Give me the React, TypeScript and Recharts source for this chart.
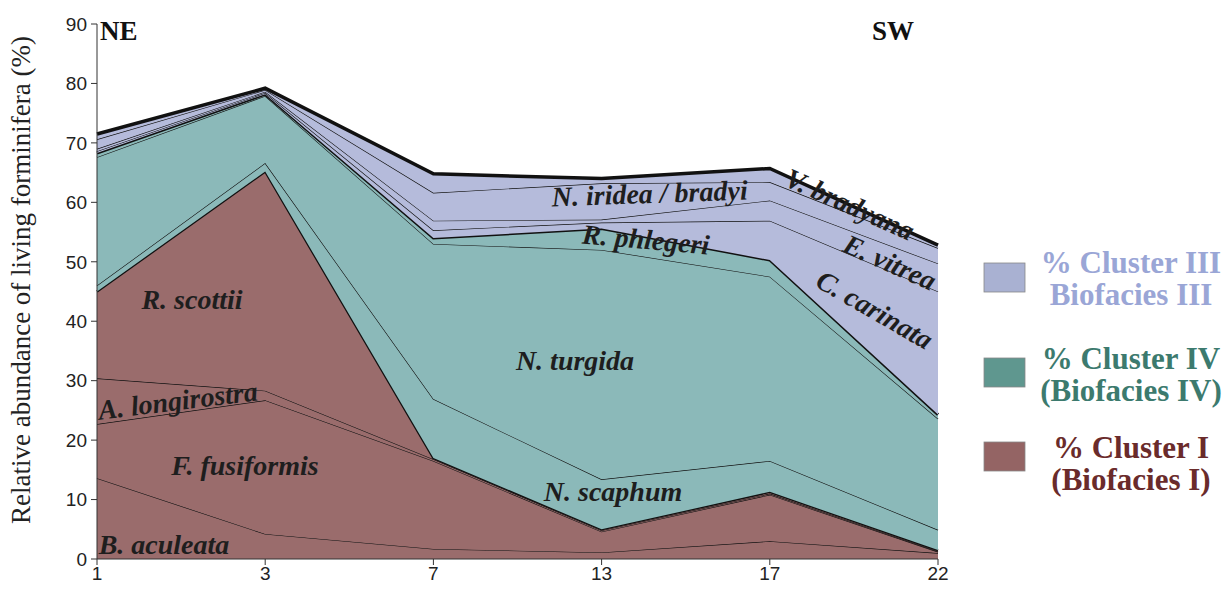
import { AreaChart, Area, XAxis, YAxis } from 'recharts'

// sampling sites, NE -> SW
const sites = ['1', '3', '7', '13', '17', '22']

// relative abundance (%) of each species, stacked bottom to top
const bAculeata = [13.6, 4.2, 1.7, 1.1, 3.0, 1.0]
const fFusiformis = [9.1, 22.5, 14.8, 3.5, 7.8, 0.2]
const aLongirostra = [7.7, 1.6, 0.3, 0.2, 0.2, 0.1]
const rScottii = [14.6, 36.9, 0.2, 0.2, 0.3, 0.2]
const nScaphum = [1.0, 1.4, 9.9, 8.4, 5.2, 3.4]
const nTurgida = [21.6, 11.3, 26.1, 38.6, 31.0, 18.7]
const rPhlegeri = [0.7, 0.3, 1.0, 3.6, 2.8, 0.7]
const cCarinata = [0.3, 0.2, 1.3, 1.0, 6.6, 20.7]
const eVitrea = [0.4, 0.2, 1.6, 0.5, 3.4, 4.7]
const nIridea = [1.6, 0.3, 4.7, 6.1, 3.1, 2.6]
const vBradyana = [0.9, 0.3, 3.2, 0.8, 2.3, 0.5]

const yTicks = [0, 10, 20, 30, 40, 50, 60, 70, 80, 90]

const BROWN = '#9a6c6c'
const TEAL = '#8bb9b9'
const LAVENDER = '#b5bbdb'

const data = sites.map((site, i) => ({
  site,
  bAculeata: bAculeata[i],
  fFusiformis: fFusiformis[i],
  aLongirostra: aLongirostra[i],
  rScottii: rScottii[i],
  nScaphum: nScaphum[i],
  nTurgida: nTurgida[i],
  rPhlegeri: rPhlegeri[i],
  cCarinata: cCarinata[i],
  eVitrea: eVitrea[i],
  nIridea: nIridea[i],
  vBradyana: vBradyana[i],
}))

const layers = [
  { key: 'bAculeata', fill: BROWN, width: 1.2 },
  { key: 'fFusiformis', fill: BROWN, width: 1.2 },
  { key: 'aLongirostra', fill: BROWN, width: 1.2 },
  { key: 'rScottii', fill: BROWN, width: 2.5 },
  { key: 'nScaphum', fill: TEAL, width: 1.2 },
  { key: 'nTurgida', fill: TEAL, width: 1.2 },
  { key: 'rPhlegeri', fill: TEAL, width: 3 },
  { key: 'cCarinata', fill: LAVENDER, width: 1.2 },
  { key: 'eVitrea', fill: LAVENDER, width: 1.2 },
  { key: 'nIridea', fill: LAVENDER, width: 1.2 },
  { key: 'vBradyana', fill: LAVENDER, width: 3.5 },
]

const species = [
  { text: 'R. scottii', x: 192, y: 309, angle: 0 },
  { text: 'A. longirostra', x: 179, y: 410, angle: -7 },
  { text: 'F. fusiformis', x: 245, y: 475, angle: 0 },
  { text: 'B. aculeata', x: 164, y: 554, angle: 0 },
  { text: 'N. turgida', x: 575, y: 370, angle: 0 },
  { text: 'N. scaphum', x: 613, y: 501, angle: 0 },
  { text: 'R. phlegeri', x: 645, y: 249, angle: 5 },
  { text: 'N. iridea / bradyi', x: 650, y: 203, angle: -2 },
  { text: 'V. bradyana', x: 846, y: 213, angle: 24 },
  { text: 'E. vitrea', x: 886, y: 271, angle: 24 },
  { text: 'C. carinata', x: 870, y: 318, angle: 30 },
]

const legend = [
  { lines: ['% Cluster III', 'Biofacies III'], box: '#a9b1d2', text: '#9aa6d6', y: 263, base: [273, 305] },
  { lines: ['% Cluster IV', '(Biofacies IV)'], box: '#5f978f', text: '#3c7a6e', y: 358, base: [369, 401] },
  { lines: ['% Cluster I', '(Biofacies I)'], box: '#946464', text: '#6a2b2b', y: 442, base: [458, 490] },
]

const serif = '"Liberation Serif", "Times New Roman", serif'
const sans = '"Liberation Sans", Arial, sans-serif'

function Overlay() {
  return (
    <svg
      width={1227}
      height={599}
      style={{ position: 'absolute', left: 0, top: 0, pointerEvents: 'none' }}
    >
      <text
        x={24}
        y={280}
        transform="rotate(-90 24 280)"
        textAnchor="middle"
        dominantBaseline="middle"
        fontFamily={serif}
        fontSize={27}
        fill="#222"
      >
        Relative abundance of living forminifera (%)
      </text>
      <text x={100} y={40} fontFamily={serif} fontSize={27} fontWeight="bold" fill="#111">NE</text>
      <text x={872} y={40} fontFamily={serif} fontSize={27} fontWeight="bold" fill="#111">SW</text>
      {species.map((s) => (
        <text
          key={s.text}
          x={s.x}
          y={s.y}
          transform={`rotate(${s.angle} ${s.x} ${s.y})`}
          textAnchor="middle"
          fontFamily={serif}
          fontSize={28}
          fontWeight="bold"
          fontStyle="italic"
          fill="#1e1e1e"
        >
          {s.text}
        </text>
      ))}
      {legend.map((l) => (
        <g key={l.lines[0]}>
          <rect x={984} y={l.y} width={41} height={29} fill={l.box} stroke="#888" strokeWidth={0.8} />
          {l.lines.map((line, i) => (
            <text
              key={line}
              x={1131}
              y={l.base[i]}
              textAnchor="middle"
              fontFamily={serif}
              fontSize={31}
              fontWeight="bold"
              fill={l.text}
            >
              {line}
            </text>
          ))}
        </g>
      ))}
    </svg>
  )
}

export default function App() {
  return (
    <div style={{ position: 'absolute', left: 0, top: 0, width: 1227, height: 599, background: '#fff' }}>
      <AreaChart
        width={1227}
        height={599}
        data={data}
        margin={{ top: 24, right: 289, bottom: 0, left: 0 }}
      >
        <XAxis
          dataKey="site"
          height={40}
          stroke="#333"
          tickSize={6}
          tick={{ fontFamily: sans, fontSize: 19, fill: '#222' }}
        />
        <YAxis
          width={97}
          domain={[0, 90]}
          ticks={yTicks}
          stroke="#333"
          tickSize={6}
          tickMargin={4}
          tick={{ fontFamily: sans, fontSize: 19, fill: '#222' }}
        />
        {layers.map((l) => (
          <Area
            key={l.key}
            type="linear"
            dataKey={l.key}
            stackId="1"
            fill={l.fill}
            fillOpacity={1}
            stroke="#111"
            strokeWidth={l.width}
            isAnimationActive={false}
          />
        ))}
      </AreaChart>
      <Overlay />
    </div>
  )
}
